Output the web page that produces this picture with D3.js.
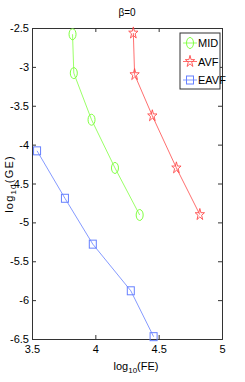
<!DOCTYPE html>
<html lang="en">
<head>
    <meta charset="UTF-8">
    <title>beta=0</title>
    <script src="https://d3js.org/d3.v7.min.js"></script>
    <style>
        body { margin: 0; background: white; }
        text { font-family: "Liberation Sans Narrow", "Liberation Sans", Arial, sans-serif; font-size: 11px; fill: black; }
        .tick line { stroke: #333; }
        .domain { stroke: #333; }
        .ylab { font-family: "Liberation Sans", Arial, sans-serif; letter-spacing: 1.2px; }
    </style>
</head>
<body>
<script>
    const width = 245, height = 382;
    const plotL = 32, plotR = 222, plotT = 28, plotB = 339;

    const xTicks = [3.5, 4, 4.5, 5];
    const yTicks = [-2.5, -3, -3.5, -4, -4.5, -5, -5.5, -6, -6.5];

    const midX = [3.82, 3.83, 3.97, 4.155, 4.35];
    const midY = [-2.58, -3.08, -3.68, -4.30, -4.905];
    const avfX = [4.30, 4.31, 4.45, 4.64, 4.825];
    const avfY = [-2.565, -3.10, -3.63, -4.30, -4.90];
    const eavfX = [3.54, 3.76, 3.98, 4.28, 4.46];
    const eavfY = [-4.08, -4.69, -5.28, -5.88, -6.47];

    const seriesNames = ["MID", "AVF", "EAVF"];
    const colors = ["#80ff40", "#ff4a4a", "#6680ff"];

    const x = d3.scaleLinear().domain([3.5, 5]).range([plotL, plotR]);
    const y = d3.scaleLinear().domain([-6.5, -2.5]).range([plotB, plotT]);

    const svg = d3.select("body").append("svg")
        .attr("width", width).attr("height", height);

    const fmt = d => String(d);

    // axes with inward ticks on all four sides
    svg.append("g").attr("transform", `translate(0,${plotB})`)
        .call(d3.axisBottom(x).tickValues(xTicks).tickSize(-4).tickPadding(4).tickFormat(fmt))
        .call(g => g.selectAll("text").attr("dy", "0.9em"));
    svg.append("g").attr("transform", `translate(0,${plotT})`)
        .call(d3.axisTop(x).tickValues(xTicks).tickSize(-4).tickFormat(""));
    svg.append("g").attr("transform", `translate(${plotL},0)`)
        .call(d3.axisLeft(y).tickValues(yTicks).tickSize(-4).tickPadding(3).tickFormat(fmt));
    svg.append("g").attr("transform", `translate(${plotR},0)`)
        .call(d3.axisRight(y).tickValues(yTicks).tickSize(-4).tickFormat(""));
    svg.selectAll(".domain").attr("stroke", "#333");
    svg.selectAll(".tick text").style("font-size", "11px").attr("fill", "black");

    const series = [
        {xs: midX, ys: midY},
        {xs: avfX, ys: avfY},
        {xs: eavfX, ys: eavfY}
    ];

    const line = d3.line().x(d => x(d[0])).y(d => y(d[1]));

    function marker(g, i, cx, cy, c) {
        if (i === 0) {
            g.append("ellipse").attr("cx", cx).attr("cy", cy).attr("rx", 3.5).attr("ry", 5.5)
                .attr("fill", "none").attr("stroke", c);
        } else if (i === 1) {
            g.append("path").attr("d", d3.symbol(d3.symbolStar, 42)())
                .attr("transform", `translate(${cx},${cy}) scale(0.8,1)`)
                .attr("fill", "none").attr("stroke", c);
        } else {
            g.append("rect").attr("x", cx - 3.5).attr("y", cy - 4).attr("width", 7).attr("height", 8)
                .attr("fill", "none").attr("stroke", c);
        }
    }

    series.forEach((s, i) => {
        const pts = s.xs.map((v, j) => [v, s.ys[j]]);
        const g = svg.append("g");
        g.append("path").attr("d", line(pts)).attr("fill", "none")
            .attr("stroke", colors[i]).attr("stroke-width", 0.8);
        pts.forEach(p => marker(g, i, x(p[0]), y(p[1]), colors[i]));
    });

    // legend
    const lg = svg.append("g").attr("transform", "translate(180,33)");
    lg.append("rect").attr("width", 40).attr("height", 56)
        .attr("fill", "white").attr("stroke", "#333");
    seriesNames.forEach((n, i) => {
        const yy = 10 + i * 18.5;
        lg.append("line").attr("x1", 3).attr("x2", 17).attr("y1", yy).attr("y2", yy)
            .attr("stroke", colors[i]).attr("stroke-width", 0.8);
        marker(lg, i, 10, yy, colors[i]);
        lg.append("text").attr("x", 18).attr("y", yy + 4).text(n);
    });

    // title and axis labels
    svg.append("text").attr("x", 127).attr("y", 16).attr("text-anchor", "middle")
        .style("font-size", "10px").text("\u03b2=0");

    const xl = svg.append("text").attr("x", 136).attr("y", 370).attr("text-anchor", "middle");
    xl.append("tspan").text("log");
    xl.append("tspan").attr("dy", 3).style("font-size", "8px").text("10");
    xl.append("tspan").attr("dy", -3).text("(FE)");

    const yl = svg.append("text").attr("class", "ylab")
        .attr("transform", "translate(13,184) rotate(-90)")
        .attr("text-anchor", "middle");
    yl.append("tspan").text("log");
    yl.append("tspan").attr("dy", 3).style("font-size", "8px").text("10");
    yl.append("tspan").attr("dy", -3).text("(GE)");
</script>
</body>
</html>
